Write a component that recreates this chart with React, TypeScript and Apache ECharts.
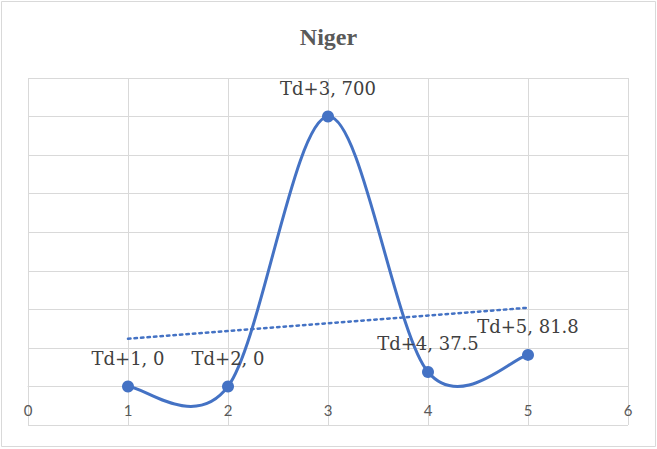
import React, { useEffect, useRef } from "react";
import * as echarts from "echarts";

const titleText = "Niger";
const categories = ["Td+1", "Td+2", "Td+3", "Td+4", "Td+5"];
const xValues = [1, 2, 3, 4, 5];
const yValues = [0, 0, 700, 37.5, 81.8];
// linear trendline endpoints
const trendX = [1, 5];
const trendY = [123.6, 204.1];

const BLUE = "#4472C4";
const GRID = "#d9d9d9";
const TEXT = "#595959";

const Y_MIN = -100;
const Y_MAX = 800;
const GRID_TOP = 78;
const GRID_BOTTOM = 24;
const CHART_H = 449;

export default function App() {
  const ref = useRef<HTMLDivElement>(null);
  useEffect(() => {
    const chart = echarts.init(ref.current!, null, { renderer: "svg" });
    const data = xValues.map((x, i) => ({ value: [x, yValues[i]], name: categories[i] }));
    const trend = trendX.map((x, i) => [x, trendY[i]]);
    const plotH = CHART_H - GRID_TOP - GRID_BOTTOM;
    const zeroOffset = -((0 - Y_MIN) / (Y_MAX - Y_MIN)) * plotH;
    chart.setOption({
      animation: false,
      backgroundColor: "#ffffff",
      title: {
        text: titleText,
        left: "center",
        top: 20,
        textStyle: { fontFamily: "'Liberation Serif', serif", fontSize: 24, fontWeight: "bold", color: TEXT },
      },
      graphic: [
        {
          type: "rect",
          shape: { x: 1.5, y: 1.5, width: 654, height: 445 },
          style: { fill: "none", stroke: GRID, lineWidth: 1 },
          silent: true,
          z: -1,
        },
      ],
      grid: { left: 28, right: 29, top: GRID_TOP, bottom: GRID_BOTTOM, containLabel: false, outerBoundsMode: "none" },
      xAxis: {
        type: "value",
        min: 0,
        max: 6,
        interval: 1,
        offset: zeroOffset,
        axisLine: { show: true, onZero: false, lineStyle: { color: GRID, width: 1 } },
        axisTick: { show: false },
        axisLabel: { color: TEXT, fontFamily: "Lato", fontSize: 15, margin: 16 },
        splitLine: { show: true, lineStyle: { color: GRID, width: 1 } },
      },
      yAxis: {
        type: "value",
        min: Y_MIN,
        max: Y_MAX,
        interval: 100,
        axisLine: { show: false },
        axisTick: { show: false },
        axisLabel: { show: false },
        splitLine: { show: true, lineStyle: { color: GRID, width: 1 } },
      },
      series: [
        {
          type: "custom",
          data: [0],
          z: 3,
          silent: true,
          renderItem: (params: any, api: any) => {
            const pts = xValues.map((x, i) => api.coord([x, yValues[i]]));
            const n = pts.length;
            let d = `M${pts[0][0]},${pts[0][1]}`;
            for (let i = 0; i < n - 1; i++) {
              const p0 = pts[Math.max(i - 1, 0)];
              const p1 = pts[i];
              const p2 = pts[i + 1];
              const p3 = pts[Math.min(i + 2, n - 1)];
              const c1x = p1[0] + (p2[0] - p0[0]) / 6;
              const c1y = p1[1] + (p2[1] - p0[1]) / 6;
              const c2x = p2[0] - (p3[0] - p1[0]) / 6;
              const c2y = p2[1] - (p3[1] - p1[1]) / 6;
              d += ` C${c1x},${c1y} ${c2x},${c2y} ${p2[0]},${p2[1]}`;
            }
            return {
              type: "path",
              shape: { pathData: d },
              style: { fill: "none", stroke: BLUE, lineWidth: 3, lineCap: "round", lineJoin: "round" },
            };
          },
        },
        {
          type: "line",
          data,
          symbol: "circle",
          symbolSize: 12,
          itemStyle: { color: BLUE },
          lineStyle: { opacity: 0 },
          label: {
            show: true,
            position: "top",
            distance: 13,
            fontFamily: "'DejaVu Serif', serif",
            fontSize: 18,
            color: "#404040",
            formatter: (p: any) => `${p.name}, ${p.value[1]}`,
          },
          z: 4,
        },
        {
          type: "line",
          data: trend,
          symbol: "none",
          lineStyle: { color: BLUE, width: 2.5, type: [2.5, 4], cap: "round" },
          z: 2,
        },
      ],
    });
    return () => chart.dispose();
  }, []);
  return <div ref={ref} style={{ width: 657, height: 449, position: "absolute", left: 0, top: 0 }} />;
}
